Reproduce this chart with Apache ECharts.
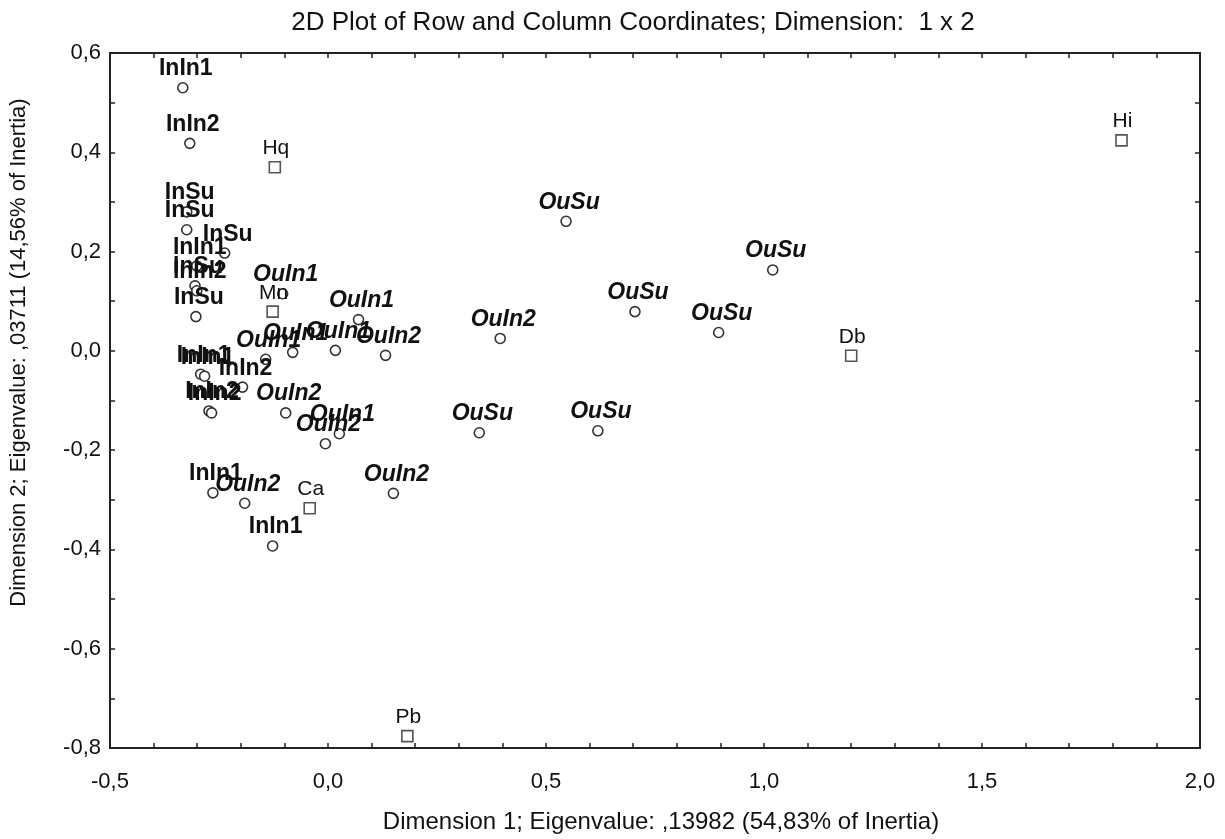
<!DOCTYPE html>
<html>
<head>
<meta charset="utf-8">
<script src="https://cdn.jsdelivr.net/npm/echarts@6/dist/echarts.min.js"></script>
<style>
  html, body { margin: 0; padding: 0; background: #ffffff; }
  #chart { width: 1225px; height: 839px; }
</style>
</head>
<body>
<div id="chart"></div>
<script>
// Row points (circles): label, Dimension 1, Dimension 2
const rowNames = [
  'InIn1', 'InIn2', 'InSu', 'InSu', 'InSu', 'InIn1', 'InSu', 'InIn2', 'InSu',
  'OuIn1', 'OuIn1', 'OuIn2', 'OuIn1', 'OuIn1', 'OuIn1',
  'InIn1', 'InIn1', 'InIn2', 'InIn2', 'InIn2', 'OuIn2', 'OuIn1', 'OuIn2',
  'InIn1', 'OuIn2', 'InIn1', 'OuIn2',
  'OuSu', 'OuIn2', 'OuSu', 'OuSu', 'OuSu', 'OuSu', 'OuSu'
];
const rowDim1 = [
  -0.333, -0.317, -0.324, -0.324, -0.237, -0.301, -0.305, -0.301, -0.303,
  -0.104, 0.070, 0.132, 0.017, -0.081, -0.143,
  -0.292, -0.283, -0.196, -0.273, -0.267, -0.097, 0.026, -0.006,
  -0.264, -0.191, -0.127, 0.150,
  0.546, 0.395, 0.704, 0.896, 0.347, 0.619, 1.020
];
const rowDim2 = [
  0.530, 0.418, 0.280, 0.244, 0.197, 0.171, 0.131, 0.121, 0.069,
  0.115, 0.063, -0.009, 0.001, -0.003, -0.017,
  -0.047, -0.051, -0.073, -0.121, -0.125, -0.125, -0.167, -0.187,
  -0.286, -0.307, -0.393, -0.287,
  0.261, 0.025, 0.079, 0.037, -0.165, -0.161, 0.163
];

// Column points (squares)
const colNames = ['Hq', 'Mn', 'Ca', 'Pb', 'Db', 'Hi'];
const colDim1 = [-0.122, -0.127, -0.042, 0.182, 1.200, 1.820];
const colDim2 = [0.370, 0.079, -0.317, -0.776, -0.010, 0.424];

const chartTitle = '2D Plot of Row and Column Coordinates; Dimension:  1 x 2';
const xTitle = 'Dimension 1; Eigenvalue: ,13982 (54,83% of Inertia)';
const yTitle = 'Dimension 2; Eigenvalue: ,03711 (14,56% of Inertia)';

const FONT = '"Liberation Sans", Arial, Helvetica, sans-serif';
const INK = '#111111';

function decimalComma(v) { return v.toFixed(1).replace('.', ','); }
function onStep(v, step) {
  const r = v / step;
  return Math.abs(r - Math.round(r)) < 1e-6;
}

const rowData = rowNames.map((name, i) => ({
  name: name,
  value: [rowDim1[i], rowDim2[i]],
  label: { fontStyle: name.startsWith('Ou') ? 'italic' : 'normal' }
}));
const colData = colNames.map((name, i) => ({ name: name, value: [colDim1[i], colDim2[i]] }));

const frameLine = { show: true, onZero: false, lineStyle: { color: '#222', width: 2 } };
const innerTick = { show: true, inside: true, length: 5, lineStyle: { color: '#222', width: 1.5 } };

function xAxisDef(pos, showLabels) {
  return {
    type: 'value', position: pos, min: -0.5, max: 2.0, interval: 0.1,
    axisLine: frameLine, axisTick: innerTick, splitLine: { show: false },
    axisLabel: {
      show: showLabels, margin: 23, color: INK, fontFamily: FONT, fontSize: 22,
      formatter: v => onStep(v, 0.5) ? decimalComma(v) : ''
    },
    name: showLabels ? xTitle : '', nameLocation: 'middle', nameGap: 62,
    nameTextStyle: { color: INK, fontFamily: FONT, fontSize: 24, padding: [0, 0, 0, 12] }
  };
}
function yAxisDef(pos, showLabels) {
  return {
    type: 'value', position: pos, min: -0.8, max: 0.6, interval: 0.1,
    axisLine: frameLine, axisTick: innerTick, splitLine: { show: false },
    axisLabel: {
      show: showLabels, margin: 9, color: INK, fontFamily: FONT, fontSize: 22,
      formatter: v => onStep(v, 0.2) ? decimalComma(v) : ''
    },
    name: showLabels ? yTitle : '', nameLocation: 'middle', nameGap: 80,
    nameTextStyle: { color: INK, fontFamily: FONT, fontSize: 22, padding: [0, 0, 0, 96] }
  };
}

const chart = echarts.init(document.getElementById('chart'), null, { renderer: 'canvas' });
chart.setOption({
  backgroundColor: '#ffffff',
  animation: false,
  title: {
    text: chartTitle, left: 628, top: 5, textAlign: 'center',
    textStyle: { color: INK, fontFamily: FONT, fontSize: 26, fontWeight: 'normal' }
  },
  grid: { left: 107, right: 25, top: 53, bottom: 85, containLabel: false },
  xAxis: [xAxisDef('bottom', true), xAxisDef('top', false)],
  yAxis: [yAxisDef('left', true), yAxisDef('right', false)],
  series: [
    {
      name: 'Rows', type: 'scatter', data: rowData,
      symbol: 'circle', symbolSize: 10,
      itemStyle: { color: '#ffffff', borderColor: '#333', borderWidth: 1.6, opacity: 1 },
      label: {
        show: true, position: 'top', distance: 2, offset: [3, 0],
        formatter: p => p.name, color: INK, fontFamily: FONT,
        fontSize: 23, fontWeight: 'bold', lineHeight: 22
      },
      z: 3
    },
    {
      name: 'Columns', type: 'scatter', data: colData,
      symbol: 'rect', symbolSize: 11,
      itemStyle: { color: '#ffffff', borderColor: '#555', borderWidth: 1.6, opacity: 1 },
      label: {
        show: true, position: 'top', distance: 2, offset: [1, 0],
        formatter: p => p.name, color: INK, fontFamily: FONT,
        fontSize: 21, fontWeight: 'normal', lineHeight: 21
      },
      z: 3
    }
  ]
});
</script>
</body>
</html>
